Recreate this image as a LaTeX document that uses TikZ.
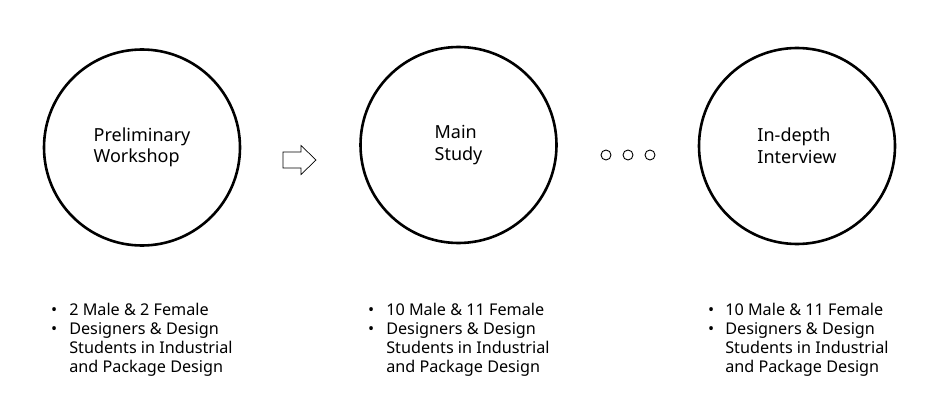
\documentclass[tikz,border=0pt]{standalone}
\usepackage{fontspec}
\setmainfont{Noto Sans}

\begin{document}
\begin{tikzpicture}[x=1pt,y=-1pt]
	\tikzstyle{every node}+=[inner sep=0pt]
	\tikzstyle{stage}=[draw=black, line width=2.6pt, circle, minimum size=196pt, align=left, font=\fontsize{18}{21.5}\selectfont]
	\tikzstyle{dot}=[draw=black, line width=0.9pt, circle, minimum size=10pt]
	\tikzstyle{info}=[anchor=base west, font=\fontsize{16.2}{19}\selectfont]
	\useasboundingbox (0,0) rectangle (947,401);
	% stages
	\node [stage] (prelim) at (142,147.5) {Preliminary\\Workshop};
	\node [stage] (main) at (458.5,145) {Main\\Study};
	\node [stage] (interview) at (797,146) {In-depth\\Interview};
	% hollow arrow
	\coordinate (arrtail) at (283,160);
	\draw [black, line width=0.7pt] (arrtail) ++(0,-8) -- ++(18,0) -- ++(0,-6.5) -- ++(15,14.5) -- ++(-15,14.5) -- ++(0,-6.5) -- ++(-18,0) -- cycle;
	% dots
	\foreach \i/\x in {1/606, 2/628, 3/650}
		\node [dot] (dot\i) at (\x,155) {};
	% participants
	\node [info] (prelimlist) at (51,315.5) {\begin{tabular}[t]{@{}c@{\hspace{12pt}}l@{}}
		\textbullet & 2 Male \& 2 Female\\
		\textbullet & Designers \& Design\\
		& Students in Industrial\\
		& and Package Design
	\end{tabular}};
	\node [info] (mainlist) at (368,315.5) {\begin{tabular}[t]{@{}c@{\hspace{12pt}}l@{}}
		\textbullet & 10 Male \& 11 Female\\
		\textbullet & Designers \& Design\\
		& Students in Industrial\\
		& and Package Design
	\end{tabular}};
	\node [info] (interviewlist) at (708,315.5) {\begin{tabular}[t]{@{}c@{\hspace{11pt}}l@{}}
		\textbullet & 10 Male \& 11 Female\\
		\textbullet & Designers \& Design\\
		& Students in Industrial\\
		& and Package Design
	\end{tabular}};
\end{tikzpicture}
\end{document}
